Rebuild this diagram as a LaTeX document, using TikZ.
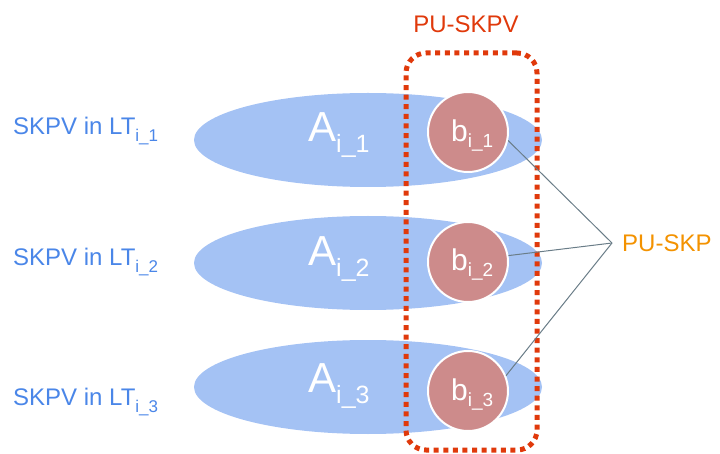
\documentclass[tikz,border=0pt]{standalone}
\usepackage{fontspec}
\setmainfont{Liberation Sans}
\usetikzlibrary{shapes.geometric}
\definecolor{ellblue}{HTML}{A4C2F4}
\definecolor{txtblue}{HTML}{4A86E8}
\definecolor{brose}{HTML}{CD8B8B}
\definecolor{boxred}{HTML}{E0390B}
\definecolor{skporange}{HTML}{F39200}
\definecolor{linegray}{HTML}{6A7D88}
\tikzset{
  setell/.style={ellipse, fill=ellblue, minimum width=348pt, minimum height=94pt, inner sep=0pt},
  elemcirc/.style={circle, fill=brose, draw=white, line width=2pt, minimum size=80pt, inner sep=0pt},
  lefttxt/.style={anchor=base west, text=txtblue, inner sep=0pt, font=\fontsize{24}{24}\selectfont},
  biglbl/.style={anchor=base west, text=white, inner sep=0pt},
  smalllbl/.style={anchor=base west, text=white, inner sep=0pt},
  conn/.style={draw=linegray, line width=1pt},
}
\newcommand{\Alab}[1]{{\fontsize{42}{42}\selectfont A}\raisebox{-11pt}{\fontsize{25}{25}\selectfont i\_#1}}
\newcommand{\blab}[1]{{\fontsize{30}{30}\selectfont b}\raisebox{-6pt}{\fontsize{19}{19}\selectfont i\_#1}}
\newcommand{\LTlab}[1]{SKPV in LT\raisebox{-7pt}{\fontsize{17}{17}\selectfont i\_#1}}
\begin{document}
\begin{tikzpicture}[x=1pt,y=-1pt]
\useasboundingbox (0,0) rectangle (720,454);
% ellipses
\node[setell] (e1) at (368,140) {};
\node[setell] (e2) at (368,263) {};
\node[setell] (e3) at (368,387) {};
% A labels
\node[biglbl] (a1) at (308,142) {\Alab{1}};
\node[biglbl] (a2) at (308,266) {\Alab{2}};
\node[biglbl] (a3) at (308,392) {\Alab{3}};
% b circles
\node[elemcirc] (b1) at (468,132) {};
\node[elemcirc] (b2) at (468,262) {};
\node[elemcirc] (b3) at (468,391) {};
\node[smalllbl] (bl1) at (451,142) {\blab{1}};
\node[smalllbl] (bl2) at (451,271) {\blab{2}};
\node[smalllbl] (bl3) at (451,400) {\blab{3}};
% dotted box
\node[draw=boxred, line width=5pt, dash pattern=on 5pt off 4.6pt, rounded corners=20pt,
      minimum width=131pt, minimum height=397pt, inner sep=0pt] (box) at (471.5,251.5) {};
\node[text=boxred, font=\fontsize{24}{24}\selectfont, inner sep=0pt] (pusk) at (466,24) {PU-SKPV};
% left labels
\node[lefttxt] (l1) at (13,135) {\LTlab{1}};
\node[lefttxt] (l2) at (13,266) {\LTlab{2}};
\node[lefttxt] (l3) at (13,405) {\LTlab{3}};
% PU-SKP
\coordinate (j) at (612,243);
\node[anchor=west, text=skporange, font=\fontsize{24}{24}\selectfont, inner sep=0pt] (skp) at (622,243) {PU-SKP};
\draw[conn] (j) -- (b1.-12);
\draw[conn] (j) -- (b2.9);
\draw[conn] (j) -- (b3.22);
\end{tikzpicture}
\end{document}
